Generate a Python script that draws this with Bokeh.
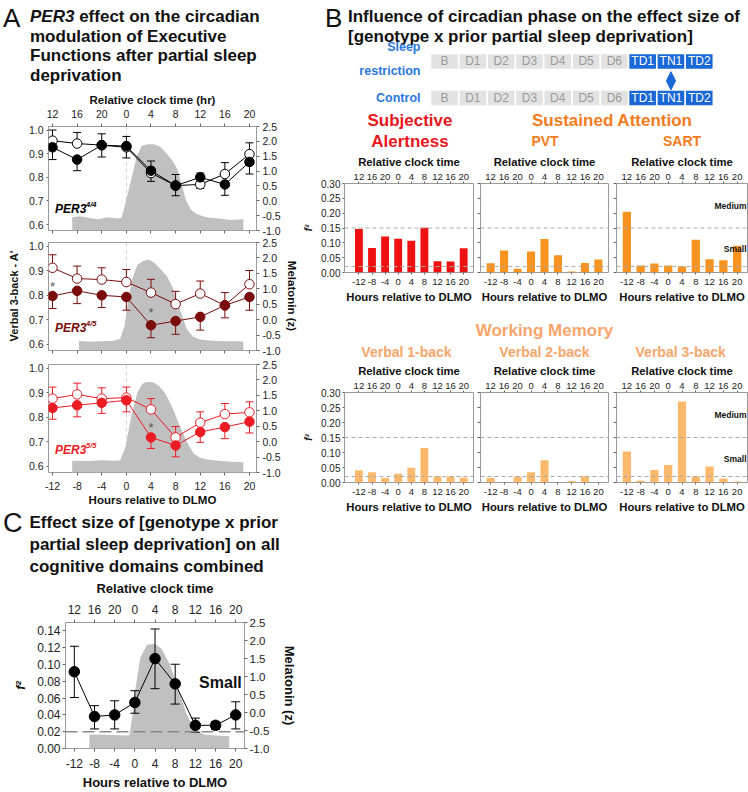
import numpy as np
from bokeh.plotting import figure
from bokeh.models import (Range1d, LinearAxis, FixedTicker, Span, Div, Label,
                          Arrow, NormalHead, NumeralTickFormatter)
from bokeh.layouts import column, row
from bokeh.embed import file_html
from bokeh.resources import INLINE
from bokeh.core.properties import value

FONT = "Liberation Sans"
CSS_FONT = "'Liberation Sans', Arial, Helvetica, sans-serif"

# ---------------- data ----------------
hours = [-12, -8, -4, 0, 4, 8, 12, 16, 20]
clock_labels = ["12", "16", "20", "0", "4", "8", "12", "16", "20"]
dlmo_labels = ["-12", "-8", "-4", "0", "4", "8", "12", "16", "20"]

# Panel A : verbal 3-back A'
a44_open = [0.955, 0.943, 0.936, 0.927, 0.818, 0.765, 0.770, 0.814, 0.898]
a44_open_err = [0.045, 0.047, 0.048, 0.045, 0.035, 0.047, 0.017, 0.048, 0.048]
a44_fill = [0.927, 0.875, 0.936, 0.932, 0.828, 0.765, 0.800, 0.770, 0.865]
a44_fill_err = [0.052, 0.047, 0.050, 0.041, 0.041, 0.043, 0.018, 0.046, 0.051]

a45_open = [0.912, 0.868, 0.864, 0.854, 0.811, 0.764, 0.807, 0.759, 0.845]
a45_open_err = [0.053, 0.051, 0.048, 0.051, 0.054, 0.052, 0.051, 0.052, 0.056]
a45_fill = [0.797, 0.818, 0.800, 0.793, 0.678, 0.695, 0.712, 0.759, 0.793]
a45_fill_err = [0.051, 0.052, 0.050, 0.054, 0.051, 0.054, 0.054, 0.051, 0.054]
a45_star_x = [-12, 4]
a45_star_y = [0.850, 0.743]

a55_open = [0.876, 0.893, 0.876, 0.880, 0.832, 0.718, 0.778, 0.813, 0.820]
a55_open_err = [0.047, 0.046, 0.044, 0.043, 0.044, 0.044, 0.044, 0.043, 0.043]
a55_fill = [0.838, 0.849, 0.859, 0.869, 0.718, 0.685, 0.740, 0.760, 0.782]
a55_fill_err = [0.046, 0.047, 0.043, 0.047, 0.045, 0.046, 0.042, 0.047, 0.046]
a55_star_x = [4]
a55_star_y = [0.772]

# melatonin profiles (z)
mel44_h = [-8.8, -7.5, -6, -4.5, -3, -1.5, -0.8, -0.3, 0.3, 1.0, 1.7, 2.5, 3.5, 4.5,
           5.5, 6.5, 7.5, 8.3, 9.0, 9.7, 10.5, 11.5, 13, 15, 17, 19]
mel44_z = [-0.55, -0.52, -0.58, -0.62, -0.55, -0.60, -0.58, -0.20, 0.30, 0.90, 1.50,
           1.85, 1.90, 1.90, 1.82, 1.60, 1.35, 1.05, 0.55, 0.00, -0.30, -0.45, -0.55,
           -0.60, -0.65, -0.62]
mel45_h = [-7.7, -6, -4, -2, -1, -0.3, 0.4, 1.0, 1.8, 2.7, 3.6, 4.5, 5.5, 6.6, 7.5,
           8.2, 9.0, 9.8, 10.8, 12, 14, 16, 18, 19]
mel45_z = [-0.69, -0.72, -0.70, -0.68, -0.62, -0.20, 0.76, 1.35, 1.78, 1.90, 1.95,
           1.85, 1.65, 1.40, 1.05, 0.65, 0.15, -0.30, -0.55, -0.64, -0.68, -0.70,
           -0.70, -0.72]
mel55_h = [-8.8, -6, -4, -2, -1, -0.1, 0.7, 1.8, 2.6, 3.4, 4.5, 5.3, 6.2, 7.0, 7.8,
           8.6, 9.4, 10.2, 11, 12, 13.1, 15, 17, 19]
mel55_z = [-0.62, -0.63, -0.60, -0.62, -0.60, -0.14, 0.73, 1.60, 1.88, 1.94, 1.92,
           1.80, 1.60, 1.30, 0.95, 0.55, 0.19, -0.15, -0.40, -0.52, -0.58, -0.62,
           -0.65, -0.67]

# Panel B : effect sizes f2
effect_levels = [0.02, 0.15]
alertness = [0.147, 0.083, 0.121, 0.114, 0.107, 0.151, 0.038, 0.037, 0.082]
pvt = [0.031, 0.074, 0.013, 0.071, 0.113, 0.058, 0.003, 0.032, 0.044]
sart = [0.205, 0.024, 0.030, 0.024, 0.020, 0.110, 0.045, 0.041, 0.090]
nback1 = [0.041, 0.034, 0.015, 0.029, 0.049, 0.115, 0.020, 0.020, 0.016]
nback2 = [0.015, 0.000, 0.019, 0.034, 0.074, 0.000, 0.005, 0.021, 0.000]
nback3 = [0.103, 0.006, 0.042, 0.058, 0.270, 0.020, 0.053, 0.013, 0.003]

days = ["B", "D1", "D2", "D3", "D4", "D5", "D6", "TD1", "TN1", "TD2"]
test_days = ["TD1", "TN1", "TD2"]

# Panel C : combined
c_vals = [0.0914, 0.0381, 0.0400, 0.0548, 0.1070, 0.0770, 0.0276, 0.0276, 0.0400]
c_upper = [0.1217, 0.0510, 0.0568, 0.0688, 0.1423, 0.1003, 0.0362, 0.0320, 0.0556]
c_lower = [0.0607, 0.0233, 0.0233, 0.0420, 0.0712, 0.0529, 0.0194, 0.0226, 0.0233]
melc_h = [-9.0, -6, -3, -1.1, -0.5, 0.16, 1.1, 2.4, 4.0, 5.3, 6.9, 8.5, 10.2, 11.8,
          13.7, 16, 18.7]
melc_z = [-0.61, -0.62, -0.63, -0.64, -0.11, 0.71, 1.53, 1.88, 1.91, 1.77, 1.35, 0.71,
          -0.02, -0.47, -0.61, -0.64, -0.66]

clock_map = {h: lab for h, lab in zip(hours, clock_labels)}
dlmo_map = {h: lab for h, lab in zip(hours, dlmo_labels)}
MEL_GRAY = "#c0c0c0"


def base_fig(w, h, xr, yr, ml, mr, mt, mb):
    p = figure(width=w, height=h, x_range=xr, y_range=yr, toolbar_location=None,
               output_backend="svg", x_axis_location=None, y_axis_location=None,
               min_border_left=ml, min_border_right=mr, min_border_top=mt,
               min_border_bottom=mb)
    p.xgrid.visible = False
    p.ygrid.visible = False
    p.outline_line_color = "#9a9a9a"
    p.background_fill_color = "white"
    p.border_fill_color = "white"
    return p


def style_axis(ax, tick_fs, label=None, label_fs=11.5, tick_out=3, ls=3, als=2,
               label_style="bold"):
    ax.major_label_text_font = FONT
    ax.major_label_text_font_size = f"{tick_fs}px"
    ax.major_label_text_color = "#222222"
    ax.major_tick_out = int(tick_out)
    ax.major_tick_in = 0
    ax.minor_tick_out = 0
    ax.minor_tick_in = 0
    ax.major_tick_line_color = "#666666"
    ax.axis_line_color = None
    ax.major_label_standoff = int(round(ls))
    if label is not None:
        ax.axis_label = label
        ax.axis_label_text_font = FONT
        ax.axis_label_text_font_size = f"{label_fs}px"
        ax.axis_label_text_font_style = label_style
        ax.axis_label_text_color = "#111111"
        ax.axis_label_standoff = int(round(als))


def hide_labels(ax):
    ax.major_label_text_font_size = "1px"
    ax.major_label_text_color = None
    ax.major_label_standoff = 0


A_W = 266


def a_panel(open_v, open_e, fill_v, fill_e, color, mel_h, mel_z, sup, stars_x, stars_y,
            height, mt, mb, top=False, bottom_labels=False):
    p = base_fig(A_W, height, Range1d(-12.65, 21.14), Range1d(0.575, 1.015), 28, 30, mt, mb)
    p.extra_y_ranges = {"mel": Range1d(-1.0, 2.5)}
    p.varea(x=mel_h, y1=-1.0, y2=mel_z, y_range_name="mel", fill_color=MEL_GRAY)
    p.add_layout(Span(location=0, dimension="height", line_color="#d0d0d0",
                      line_dash="4 3", line_width=1, level="underlay"))
    o = np.array(open_v)
    f = np.array(fill_v)
    up = o >= f
    o_end = np.where(up, o + np.array(open_e), o - np.array(open_e))
    f_end = np.where(up, f - np.array(fill_e), f + np.array(fill_e))
    for v, e in ((o, o_end), (f, f_end)):
        p.segment(x0=hours, y0=v, x1=hours, y1=e, line_color=color, line_width=1)
        p.scatter(x=hours, y=e, marker="dash", size=8, line_color=color, line_width=1)
    p.line(hours, o, line_color=color, line_width=1)
    p.line(hours, f, line_color=color, line_width=1)
    p.scatter(hours, o, marker="circle", size=9.5, fill_color="white", line_color=color,
              line_width=1)
    p.scatter(hours, f, marker="circle", size=9.5, fill_color=color, line_color=color)
    for sx, sy in zip(stars_x, stars_y):
        p.add_layout(Label(x=sx, y=sy, text="*", text_font=FONT, text_font_size="13px",
                           text_color="#555555", text_align="center",
                           text_baseline="middle", y_offset=-3))
    p.add_layout(Label(x=-11.6, y=0.665, text="PER3", text_font=FONT,
                       text_font_size="12px", text_font_style="bold italic",
                       text_color=color, text_baseline="middle"))
    p.add_layout(Label(x=-11.6, y=0.665, text=sup, text_font=FONT, x_offset=31,
                       y_offset=5, text_font_size="7.5px", text_font_style="bold italic",
                       text_color=color, text_baseline="middle"))
    la = LinearAxis(ticker=FixedTicker(ticks=[0.6, 0.7, 0.8, 0.9, 1.0]),
                    formatter=NumeralTickFormatter(format="0.0"))
    style_axis(la, 10.5, tick_out=2, ls=3)
    p.add_layout(la, "left")
    ra = LinearAxis(y_range_name="mel",
                    ticker=FixedTicker(ticks=[-1, -0.5, 0, 0.5, 1, 1.5, 2, 2.5]),
                    formatter=NumeralTickFormatter(format="0.0"))
    style_axis(ra, 10.5, tick_out=3, ls=3)
    p.add_layout(ra, "right")
    if top:
        ta = LinearAxis(ticker=FixedTicker(ticks=hours), major_label_overrides=clock_map)
        style_axis(ta, 10.5, label="Relative clock time (hr)", label_fs=11.5, ls=6, als=1)
        p.add_layout(ta, "above")
    ba = LinearAxis(ticker=FixedTicker(ticks=hours), major_label_overrides=dlmo_map)
    if bottom_labels:
        style_axis(ba, 10.5, label="Hours relative to DLMO", label_fs=11.5, ls=6, als=1)
    else:
        style_axis(ba, 10.5)
        hide_labels(ba)
    p.add_layout(ba, "below")
    return p


def bar_panel(vals, color, width, ml, mr, xr, frame_h, first=False, levels_text=False):
    p = base_fig(width, 30 + frame_h + 34, Range1d(*xr), Range1d(0, 0.30), ml, mr, 30, 34)
    p.vbar(x=hours, top=vals, width=2.4, fill_color=color, line_color=None)
    for lv in effect_levels:
        p.add_layout(Span(location=lv, dimension="width", line_color="#aaaaaa",
                          line_dash="4 3", line_width=1))
    if levels_text:
        for txt, yy in (("Medium", 0.225), ("Small", 0.08)):
            p.add_layout(Label(x=xr[1], y=yy, x_offset=-1, text=txt, text_font=FONT,
                               text_font_size="8.5px", text_font_style="bold",
                               text_color="#111111", text_align="right",
                               text_baseline="middle"))
    la = LinearAxis(ticker=FixedTicker(ticks=[0, 0.05, 0.10, 0.15, 0.20, 0.25, 0.30]),
                    formatter=NumeralTickFormatter(format="0.00"))
    if first:
        style_axis(la, 10, label="f\u00b2", label_fs=10, tick_out=2, ls=2, als=4,
                   label_style="bold italic")
    else:
        style_axis(la, 10, tick_out=3)
        hide_labels(la)
    p.add_layout(la, "left")
    ta = LinearAxis(ticker=FixedTicker(ticks=hours), major_label_overrides=clock_map)
    style_axis(ta, 9.5, label="Relative clock time", label_fs=11.3, tick_out=2, ls=2,
               als=3)
    p.add_layout(ta, "above")
    ba = LinearAxis(ticker=FixedTicker(ticks=hours), major_label_overrides=dlmo_map)
    style_axis(ba, 9.5, label="Hours relative to DLMO", label_fs=11.3, tick_out=2, ls=4,
               als=3)
    p.add_layout(ba, "below")
    return p


def div(html, w, h):
    return Div(text=html, width=w, height=h, margin=(0, 0, 0, 0),
               styles={"overflow": "visible"})


def abs_block(text, cx, top, size, color, lh, weight="bold", w=240):
    return (f'<div style="position:absolute;left:{cx - w / 2}px;top:{top}px;width:{w}px;'
            f'text-align:center;font-size:{size}px;line-height:{lh}px;font-weight:{weight};'
            f'color:{color};white-space:nowrap;">{text}</div>')


def wrap(inner, w, h):
    return (f'<div style="position:relative;width:{w}px;height:{h}px;font-family:{CSS_FONT};">'
            f'{inner}</div>')


def vlabel(text, w, h, cx, cy, size, angle):
    return div(wrap(
        f'<div style="position:absolute;left:{cx}px;top:{cy}px;'
        f'transform:translate(-50%,-50%) rotate({angle}deg);white-space:nowrap;'
        f'font-size:{size}px;font-weight:bold;color:#111;">{text}</div>', w, h), w, h)


# ---------------- panel A ----------------
divA = div(wrap(
    '<div style="position:absolute;left:3px;top:3px;font-size:26px;line-height:30px;'
    'color:#111;">A</div>'
    '<div style="position:absolute;left:30px;top:7px;font-size:17px;line-height:19.5px;'
    'font-weight:bold;color:#111;white-space:nowrap;"><i>PER3</i> effect on the circadian<br>'
    'modulation of Executive<br>Functions after partial sleep<br>deprivation</div>', 300, 90),
    300, 90)

pA1 = a_panel(a44_open, a44_open_err, a44_fill, a44_fill_err, "#000000", mel44_h, mel44_z,
              "4/4", [], [], 146, 32, 6, top=True)
pA2 = a_panel(a45_open, a45_open_err, a45_fill, a45_fill_err, "#7a0c0c", mel45_h, mel45_z,
              "4/5", a45_star_x, a45_star_y, 121, 6, 7)
pA3 = a_panel(a55_open, a55_open_err, a55_fill, a55_fill_err, "#ec1c24", mel55_h, mel55_z,
              "5/5", a55_star_x, a55_star_y, 153, 7, 38, bottom_labels=True)
ylabA = vlabel("Verbal 3-back - A'", 20, 420, 15, 206, 11, -90)
rlabA = vlabel("Melatonin (z)", 14, 420, 6, 206, 11.5, 90)
blockA = row(ylabA, column(pA1, pA2, pA3, spacing=0), rlabA, spacing=0)

# ---------------- panel C ----------------
divC = div(wrap(
    '<div style="position:absolute;left:3px;top:0px;font-size:27px;line-height:26px;'
    'color:#111;">C</div>'
    '<div style="position:absolute;left:29.5px;top:2px;font-size:17px;line-height:22px;'
    'font-weight:bold;color:#111;white-space:nowrap;">Effect size of [genotype x prior<br>'
    'partial sleep deprivation] on all<br>cognitive domains combined</div>', 300, 67), 300, 67)

pC = base_fig(300, 215, Range1d(-13.75, 21.74), Range1d(0, 0.15), 65, 52, 44, 43)
pC.extra_y_ranges = {"mel": Range1d(-1.0, 2.5)}
pC.varea(x=melc_h, y1=-1.0, y2=melc_z, y_range_name="mel", fill_color=MEL_GRAY)
pC.add_layout(Span(location=effect_levels[0], dimension="width", line_color="#8a8a8a",
                   line_dash="12 5", line_width=1.5))
pC.segment(x0=hours, y0=c_lower, x1=hours, y1=c_upper, line_color="black", line_width=1)
pC.scatter(hours, c_lower, marker="dash", size=9, line_color="black")
pC.scatter(hours, c_upper, marker="dash", size=9, line_color="black")
pC.line(hours, c_vals, line_color="black", line_width=1)
pC.scatter(hours, c_vals, marker="circle", size=10.5, fill_color="black", line_color="black")
pC.add_layout(Label(x=21.2, y=0.079, text="Small", text_font=FONT, text_font_size="16px",
                    text_font_style="bold", text_color="#111111", text_align="right",
                    text_baseline="middle"))
lc = LinearAxis(ticker=FixedTicker(ticks=[0, 0.02, 0.04, 0.06, 0.08, 0.10, 0.12, 0.14]),
                formatter=NumeralTickFormatter(format="0.00"))
style_axis(lc, 12, label="f\u00b2", label_fs=13, ls=2, als=6, label_style="bold italic")
pC.add_layout(lc, "left")
rc = LinearAxis(y_range_name="mel", ticker=FixedTicker(ticks=[-1, -0.5, 0, 0.5, 1, 1.5, 2, 2.5]),
                formatter=NumeralTickFormatter(format="0.0"))
style_axis(rc, 11.5, label="Melatonin (z)", label_fs=13, ls=2, als=10)
pC.add_layout(rc, "right")
tc = LinearAxis(ticker=FixedTicker(ticks=hours), major_label_overrides=clock_map)
style_axis(tc, 12, label="Relative clock time", label_fs=13, ls=6, als=6)
pC.add_layout(tc, "above")
bc = LinearAxis(ticker=FixedTicker(ticks=hours), major_label_overrides=dlmo_map)
style_axis(bc, 12, label="Hours relative to DLMO", label_fs=13, ls=7, als=4)
pC.add_layout(bc, "below")

# ---------------- panel B ----------------
divB = div(wrap(
    '<div style="position:absolute;left:25px;top:3px;font-size:26px;line-height:30px;'
    'color:#111;">B</div>'
    '<div style="position:absolute;left:48px;top:7px;font-size:17px;line-height:20px;'
    'font-weight:bold;color:#111;white-space:nowrap;">Influence of circadian phase on the '
    'effect size of<br>[genotype x prior partial sleep deprivation]</div>', 448, 40), 448, 40)

BLUE = "#1a68d6"
sched = figure(width=448, height=66, x_range=Range1d(-5.09, 10.74),
               y_range=Range1d(-0.233, 1.575), toolbar_location=None, output_backend="svg",
               x_axis_location=None, y_axis_location=None, min_border=0)
sched.xgrid.visible = False
sched.ygrid.visible = False
sched.outline_line_color = None
sched.background_fill_color = None
sched.border_fill_color = None
sx = np.tile(np.arange(len(days)), 2)
sy = np.repeat([1, 0], len(days))
is_test = np.array([d in test_days for d in days * 2])
sched.rect(x=sx, y=sy, width=0.94, height=0.40,
           fill_color=np.where(is_test, BLUE, "#e2e2e2").tolist(), line_color=None)
sched.text(x=sx, y=sy, text=days * 2, text_align="center", text_baseline="middle",
           text_font=value(FONT), text_font_size="12px",
           text_color=np.where(is_test, "white", "#9a9a9a").tolist())
sched.text(x=[-0.85, -0.85, -0.85], y=[1.41, 0.75, 0.0],
           text=["Sleep", "restriction", "Control"], text_align="right",
           text_baseline="middle", text_font=value(FONT), text_font_size="12.5px",
           text_font_style="bold", text_color="#2a78e0")
tn = days.index("TN1")
sched.add_layout(Arrow(x_start=tn, y_start=0.22, x_end=tn, y_end=0.72, line_color=BLUE,
                       line_width=5,
                       start=NormalHead(size=9, fill_color=BLUE, line_color=BLUE),
                       end=NormalHead(size=9, fill_color=BLUE, line_color=BLUE)))

RED = "#e8161b"
ORANGE = "#f47b20"
SALMON = "#f8a56b"
headB = div(wrap(
    abs_block("Subjective<br>Alertness", 110, 3.5, 17, RED, 21) +
    abs_block("Sustained Attention", 312, 3.5, 17, ORANGE, 21) +
    abs_block("PVT", 245, 25, 14, ORANGE, 21) +
    abs_block("SART", 382, 25, 14, ORANGE, 21), 448, 46), 448, 46)
headW = div(wrap(
    abs_block("Working Memory", 244.5, 13.5, 17, SALMON, 21) +
    abs_block("Verbal 1-back", 106.5, 36, 14, SALMON, 21) +
    abs_block("Verbal 2-back", 244.5, 36, 14, SALMON, 21) +
    abs_block("Verbal 3-back", 380.7, 36, 14, SALMON, 21), 448, 55), 448, 55)

BAR_RED = "#ee1111"
BAR_OR = "#f7931e"
BAR_LT = "#fdb96b"
b1 = bar_panel(alertness, BAR_RED, 176, 40, 3, (-16.4, 23.0), 90, first=True)
b2 = bar_panel(pvt, BAR_OR, 136, 4, 4, (-15.0, 23.0), 90)
b3 = bar_panel(sart, BAR_OR, 136, 4, 1, (-15.0, 23.0), 90, levels_text=True)
b4 = bar_panel(nback1, BAR_LT, 176, 40, 3, (-16.4, 23.0), 91, first=True)
b5 = bar_panel(nback2, BAR_LT, 136, 4, 4, (-15.0, 23.0), 91)
b6 = bar_panel(nback3, BAR_LT, 136, 4, 1, (-15.0, 23.0), 91, levels_text=True)

left = column(divA, blockA, divC, pC, spacing=0)
right = column(divB, sched, headB, row(b1, b2, b3, spacing=0), headW,
               row(b4, b5, b6, spacing=0), spacing=0)
root = row(left, right, spacing=0)

open("out.html", "w").write(file_html(root, INLINE, title="PER3 circadian effects"))
